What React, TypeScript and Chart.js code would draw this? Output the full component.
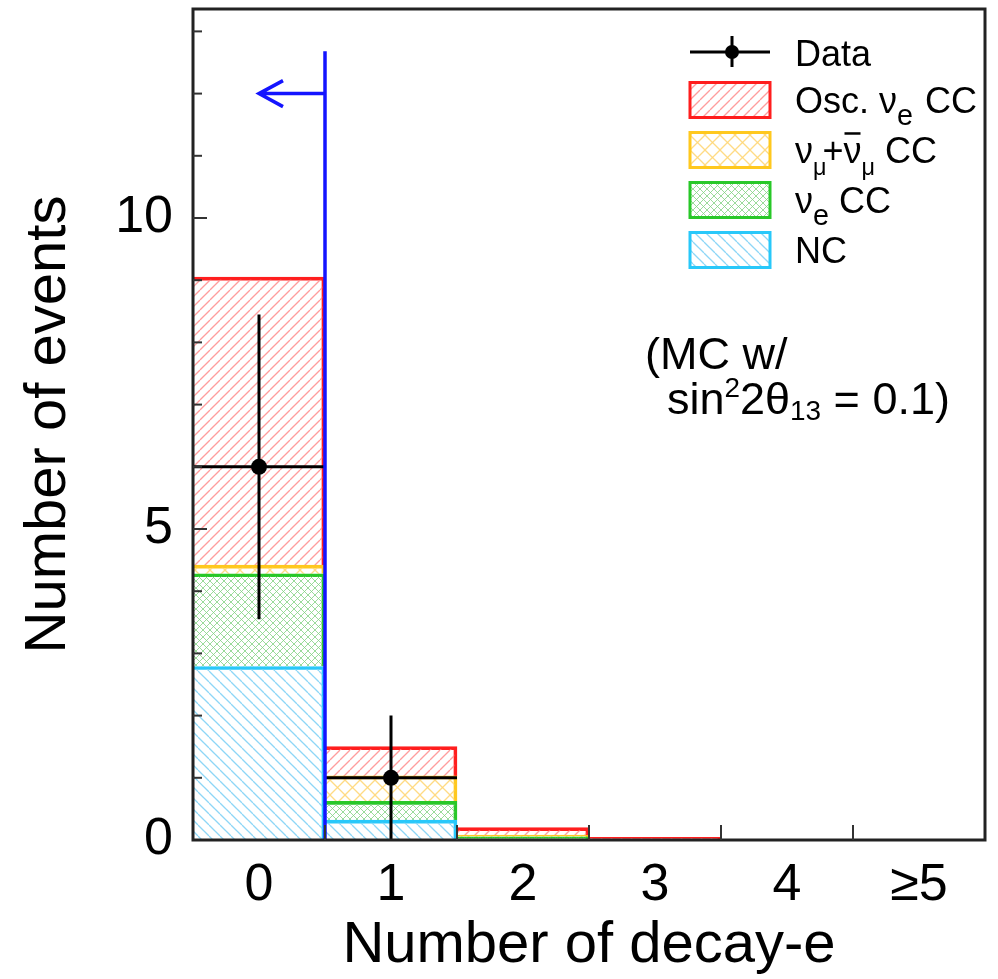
import React, { useEffect, useRef } from 'react';
import { Chart, registerables } from 'chart.js';

Chart.register(...registerables);

// ---------------- data ----------------
const categories = ['0', '1', '2', '3', '4', '≥5'];
const ncValues = [2.79, 0.32, 0.01, 0.004, 0.002, 0];
const nueCCValues = [1.49, 0.3, 0.04, 0.004, 0.002, 0];
const numuCCValues = [0.14, 0.41, 0.03, 0.004, 0.002, 0];
const oscNueCCValues = [4.63, 0.47, 0.12, 0.03, 0.006, 0];
const dataValues: (number | null)[] = [6, 1, null, null, null, null];
const dataErrors: (number | null)[] = [2.45, 1.0, null, null, null, null];
const yTickLabels = [0, 5, 10];
const yMin = 0;
const yMax = 13.36;
const cutPosition = 0.5; // bin edge between 0 and 1
const cutTop = 12.68;
const arrowLevel = 12;
const arrowTip = 0;

const FONT = "'Liberation Sans', Arial, Helvetica, sans-serif";

function makeHatch(kind: 'fwd' | 'back' | 'cross', color: string, size: number, lw: number) {
  const c = document.createElement('canvas');
  c.width = size;
  c.height = size;
  const g = c.getContext('2d')!;
  g.strokeStyle = color;
  g.lineWidth = lw;
  const line = (x0: number, y0: number, x1: number, y1: number) => {
    g.beginPath();
    g.moveTo(x0, y0);
    g.lineTo(x1, y1);
    g.stroke();
  };
  for (const k of [-size, 0, size]) {
    if (kind === 'fwd' || kind === 'cross') line(k, size, k + size, 0);
    if (kind === 'back' || kind === 'cross') line(k, 0, k + size, size);
  }
  return g.createPattern(c, 'repeat')!;
}

type Part = { t: string; size: number; dy?: number; bar?: boolean; kern?: number };

function drawRich(ctx: CanvasRenderingContext2D, x: number, y: number, parts: Part[]) {
  let cx = x;
  for (const p of parts) {
    ctx.font = `${p.size}px ${FONT}`;
    const w = ctx.measureText(p.t).width;
    ctx.fillText(p.t, cx, y + (p.dy || 0));
    if (p.bar) {
      ctx.save();
      ctx.lineWidth = 2.5;
      ctx.beginPath();
      ctx.moveTo(cx + 1, y + (p.dy || 0) - p.size * 0.82);
      ctx.lineTo(cx + w - 1, y + (p.dy || 0) - p.size * 0.82);
      ctx.stroke();
      ctx.restore();
    }
    cx += w + (p.kern || 0);
  }
}

const COLORS = {
  red: 'rgb(255,30,30)',
  yellow: 'rgb(255,200,30)',
  green: 'rgb(40,200,40)',
  cyan: 'rgb(40,200,250)',
};

export default function App() {
  const ref = useRef<HTMLCanvasElement | null>(null);

  useEffect(() => {
    if (!ref.current) return;
    const redHatch = makeHatch('fwd', 'rgba(255,140,140,0.85)', 10, 1.3);
    const yellowHatch = makeHatch('cross', 'rgba(255,215,120,0.9)', 15, 1.3);
    const greenHatch = makeHatch('cross', 'rgba(130,210,130,0.8)', 7, 1);
    const cyanHatch = makeHatch('back', 'rgba(130,210,245,0.9)', 11, 1.3);

    const barCommon = {
      type: 'bar' as const,
      barPercentage: 1,
      categoryPercentage: 1,
      borderWidth: { top: 3, right: 3, left: 0, bottom: 0 },
      borderSkipped: false as const,
      stack: 'mc',
      order: 1,
    };

    const overlay = {
      id: 'overlay',
      afterDatasetsDraw(chart: any) {
        const ctx: CanvasRenderingContext2D = chart.ctx;
        const { left, right, top, bottom } = chart.chartArea;
        const xs = chart.scales.x;
        const ys = chart.scales.y;
        ctx.save();

        // error bars for data
        ctx.strokeStyle = '#000';
        ctx.lineWidth = 3;
        dataValues.forEach((v, i) => {
          if (v === null) return;
          const e = dataErrors[i] || 0;
          const cx = xs.getPixelForValue(i);
          ctx.beginPath();
          ctx.moveTo(xs.getPixelForValue(i - 0.5), ys.getPixelForValue(v));
          ctx.lineTo(xs.getPixelForValue(i + 0.5), ys.getPixelForValue(v));
          ctx.moveTo(cx, ys.getPixelForValue(Math.max(0, v - e)));
          ctx.lineTo(cx, ys.getPixelForValue(v + e));
          ctx.stroke();
        });

        // cut line and arrow
        ctx.strokeStyle = 'rgb(20,20,255)';
        ctx.lineWidth = 3.5;
        const bx = xs.getPixelForValue(cutPosition);
        ctx.beginPath();
        ctx.moveTo(bx, ys.getPixelForValue(0));
        ctx.lineTo(bx, ys.getPixelForValue(cutTop));
        const ay = ys.getPixelForValue(arrowLevel);
        const tx = xs.getPixelForValue(arrowTip);
        ctx.moveTo(bx, ay);
        ctx.lineTo(tx, ay);
        ctx.moveTo(tx + 24, ay - 13);
        ctx.lineTo(tx, ay);
        ctx.lineTo(tx + 24, ay + 13);
        ctx.stroke();

        // frame
        ctx.strokeStyle = '#222';
        ctx.lineWidth = 3;
        ctx.strokeRect(left, top, right - left, bottom - top);
        // y ticks
        ctx.lineWidth = 2;
        ctx.strokeStyle = '#333';
        for (let v = 1; v <= Math.floor(yMax); v++) {
          const py = ys.getPixelForValue(v);
          const len = v % 5 === 0 ? 14 : 9;
          ctx.beginPath();
          ctx.moveTo(left, py);
          ctx.lineTo(left + len, py);
          ctx.stroke();
        }
        // x ticks at bin edges
        for (let i = 0; i < categories.length - 1; i++) {
          const px = xs.getPixelForValue(i + 0.5);
          ctx.beginPath();
          ctx.moveTo(px, bottom);
          ctx.lineTo(px, bottom - 15);
          ctx.stroke();
        }

        // legend
        const lx = right - 295;
        const bw = 80;
        const bh = 35;
        const tx0 = right - 190;
        const fs = 36;
        ctx.fillStyle = '#000';
        ctx.textBaseline = 'alphabetic';
        ctx.textAlign = 'left';
        const dy0 = top + 43;
        ctx.strokeStyle = '#000';
        ctx.lineWidth = 3;
        ctx.beginPath();
        ctx.moveTo(lx, dy0);
        ctx.lineTo(lx + bw, dy0);
        ctx.moveTo(lx + 42, dy0 - 16);
        ctx.lineTo(lx + 42, dy0 + 15);
        ctx.stroke();
        ctx.beginPath();
        ctx.arc(lx + 42, dy0, 7, 0, Math.PI * 2);
        ctx.fill();
        drawRich(ctx, tx0, dy0 + 14, [{ t: 'Data', size: fs }]);

        const entries: { color: string; pat: CanvasPattern; parts: Part[] }[] = [
          {
            color: COLORS.red,
            pat: redHatch,
            parts: [
              { t: 'Osc. ν', size: fs },
              { t: 'e', size: fs * 0.8, dy: 12, kern: 2 },
              { t: ' CC', size: fs },
            ],
          },
          {
            color: COLORS.yellow,
            pat: yellowHatch,
            parts: [
              { t: 'ν', size: fs },
              { t: 'μ', size: fs * 0.65, dy: 12, kern: -4 },
              { t: '+', size: fs },
              { t: 'ν', size: fs, bar: true },
              { t: 'μ', size: fs * 0.65, dy: 12 },
              { t: ' CC', size: fs },
            ],
          },
          {
            color: COLORS.green,
            pat: greenHatch,
            parts: [
              { t: 'ν', size: fs },
              { t: 'e', size: fs * 0.8, dy: 12 },
              { t: ' CC', size: fs },
            ],
          },
          { color: COLORS.cyan, pat: cyanHatch, parts: [{ t: 'NC', size: fs }] },
        ];
        entries.forEach((en, k) => {
          const cy = top + 91 + 50 * k;
          ctx.fillStyle = en.pat;
          ctx.fillRect(lx, cy - bh / 2, bw, bh);
          ctx.strokeStyle = en.color;
          ctx.lineWidth = 3;
          ctx.strokeRect(lx, cy - bh / 2, bw, bh);
          ctx.fillStyle = '#000';
          ctx.strokeStyle = '#000';
          drawRich(ctx, tx0, cy + 13, en.parts);
        });

        // annotation
        const afs = 45;
        ctx.fillStyle = '#000';
        drawRich(ctx, left + 452, top + 360, [{ t: '(MC w/', size: afs }]);
        drawRich(ctx, left + 474, top + 405, [
          { t: 'sin', size: afs },
          { t: '2', size: afs * 0.62, dy: -17 },
          { t: '2θ', size: afs },
          { t: '13', size: afs * 0.62, dy: 6 },
          { t: ' = 0.1)', size: afs },
        ]);

        ctx.restore();
      },
    };

    const chart = new Chart(ref.current, {
      type: 'bar',
      data: {
        labels: categories,
        datasets: [
          {
            ...barCommon,
            label: 'NC',
            data: ncValues,
            backgroundColor: cyanHatch,
            borderColor: COLORS.cyan,
          },
          {
            ...barCommon,
            label: 'νe CC',
            data: nueCCValues,
            backgroundColor: greenHatch,
            borderColor: COLORS.green,
          },
          {
            ...barCommon,
            label: 'νμ+ν̄μ CC',
            data: numuCCValues,
            backgroundColor: yellowHatch,
            borderColor: COLORS.yellow,
          },
          {
            ...barCommon,
            label: 'Osc. νe CC',
            data: oscNueCCValues,
            backgroundColor: redHatch,
            borderColor: COLORS.red,
          },
          {
            type: 'line',
            label: 'Data',
            data: dataValues,
            showLine: false,
            stack: 'data',
            order: -1,
            pointRadius: 8,
            pointBackgroundColor: '#000',
            pointBorderColor: '#000',
            pointBorderWidth: 0,
          } as any,
        ],
      },
      options: {
        responsive: false,
        animation: false,
        layout: { padding: { left: 0, right: 13, top: 9, bottom: 0 } },
        plugins: { legend: { display: false }, tooltip: { enabled: false } },
        scales: {
          x: {
            stacked: true,
            grid: { display: false, drawTicks: false },
            border: { display: false },
            ticks: {
              font: { size: 52, family: FONT },
              color: '#000',
              padding: 14,
              maxRotation: 0,
              autoSkip: false,
            },
            title: {
              display: true,
              text: 'Number of decay-e',
              font: { size: 58, family: FONT, lineHeight: 1 },
              color: '#000',
              padding: { top: 0, bottom: 4 },
            },
            afterFit: (s: any) => {
              s.height = 139;
              s.paddingLeft = 0;
              s.paddingRight = 0;
            },
          },
          y: {
            stacked: true,
            min: yMin,
            max: yMax,
            grid: { display: false, drawTicks: false },
            border: { display: false },
            afterBuildTicks: (s: any) => {
              s.ticks = yTickLabels.map((v) => ({ value: v }));
            },
            ticks: {
              font: { size: 52, family: FONT },
              color: '#000',
              padding: 20,
            },
            title: {
              display: true,
              text: 'Number of events',
              font: { size: 58, family: FONT, lineHeight: 1 },
              color: '#000',
              padding: { top: 20, bottom: 0 },
            },
            afterFit: (s: any) => {
              s.width = 193;
              s.paddingTop = 0;
              s.paddingBottom = 0;
            },
          },
        },
      },
      plugins: [overlay],
    });
    return () => chart.destroy();
  }, []);

  return (
    <div style={{ position: 'fixed', left: 0, top: 0, width: 998, height: 979, background: '#fff' }}>
      <canvas ref={ref} width={998} height={979} style={{ display: 'block' }} />
    </div>
  );
}
